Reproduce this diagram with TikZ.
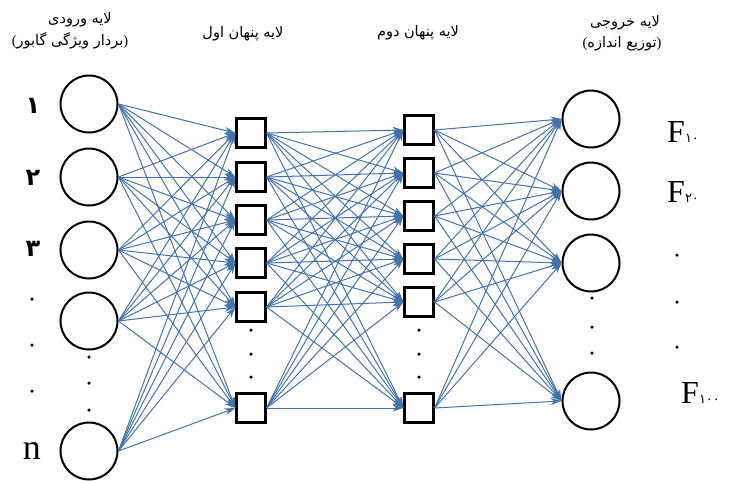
\documentclass[tikz,border=0pt]{standalone}
\usepackage{fontspec}
\setmainfont{Liberation Serif}
\newfontfamily\arabicfont[Script=Arabic]{DejaVu Sans}
\TeXXeTstate=1
\usetikzlibrary{arrows.meta}
\definecolor{edgeblue}{RGB}{68,114,170}
\begin{document}
\begin{tikzpicture}[x=1pt,y=-1pt,
  incirc/.style={circle,draw=black,line width=2pt,minimum size=57pt,inner sep=0pt},
  sqbox/.style={rectangle,draw=black,line width=2.2pt,minimum size=29pt,inner sep=0pt},
  conn/.style={draw=edgeblue,line width=1pt,-{Stealth[length=11pt,width=7pt]}},
  dotn/.style={circle,fill=black,inner sep=0pt,minimum size=3.5pt},
  head/.style={font=\arabicfont\fontsize{14.5}{16}\selectfont,inner sep=0pt},
  fnum/.style={font=\fontsize{32}{32}\selectfont,inner sep=0pt,anchor=west},
  pdig/.style={font=\arabicfont\bfseries\fontsize{24}{24}\selectfont,inner sep=0pt}]
\useasboundingbox (0,0) rectangle (732,480);

% headers
\node[head] (h1a) at (80,20) {\beginR لایه ورودی\endR};
\node[head] (h1b) at (70,41) {{\rmfamily(}\beginR بردار ویژگی گابور\endR{\rmfamily)}};
\node[head] (h2) at (243,34) {\beginR لایه پنهان اول\endR};
\node[head] (h3) at (418,33) {\beginR لایه پنهان دوم\endR};
\node[head] (h4a) at (625,23) {\beginR لایه خروجی\endR};
\node[head] (h4b) at (622,44) {{\rmfamily(}\beginR توزیع اندازه\endR{\rmfamily)}};

% input layer
\node[incirc] (i1) at (89,104) {};
\node[incirc] (i2) at (89,177) {};
\node[incirc] (i3) at (89,250) {};
\node[incirc] (i4) at (89,321) {};
\node[incirc] (i5) at (89,451) {};
\node[dotn] (id1) at (89,357) {};
\node[dotn] (id2) at (89,383) {};
\node[dotn] (id3) at (89,410) {};

% input labels
\node[pdig] (l1) at (33,106) {۱};
\node[pdig] (l2) at (33,178) {۲};
\node[pdig] (l3) at (33,249) {۳};
\node[dotn] (ld1) at (32,299) {};
\node[dotn] (ld2) at (32,345) {};
\node[dotn] (ld3) at (32,391) {};
\node[font=\fontsize{36}{36}\selectfont,inner sep=0pt] (ln) at (32,451) {n};

% hidden layer 1
\node[sqbox] (a1) at (251,133) {};
\node[sqbox] (a2) at (251,177) {};
\node[sqbox] (a3) at (251,220) {};
\node[sqbox] (a4) at (251,263) {};
\node[sqbox] (a5) at (251,307) {};
\node[sqbox] (a6) at (251,408) {};
\node[dotn] (ad1) at (251,330) {};
\node[dotn] (ad2) at (251,354) {};
\node[dotn] (ad3) at (251,377) {};

% hidden layer 2
\node[sqbox] (b1) at (419,130) {};
\node[sqbox] (b2) at (419,173) {};
\node[sqbox] (b3) at (419,216) {};
\node[sqbox] (b4) at (419,259) {};
\node[sqbox] (b5) at (419,302) {};
\node[sqbox] (b6) at (419,408) {};
\node[dotn] (bd1) at (419,330) {};
\node[dotn] (bd2) at (419,354) {};
\node[dotn] (bd3) at (419,377) {};

% output layer
\node[incirc] (o1) at (591,119) {};
\node[incirc] (o2) at (591,191) {};
\node[incirc] (o3) at (591,263) {};
\node[incirc] (o4) at (591,401) {};
\node[dotn] (od1) at (592,298) {};
\node[dotn] (od2) at (592,327) {};
\node[dotn] (od3) at (592,353) {};

% output labels
\node[fnum] (f1) at (667,132) {F{\arabicfont\fontsize{13}{13}\selectfont ۱۰}};
\node[fnum] (f2) at (667,192) {F{\arabicfont\fontsize{13}{13}\selectfont ۲۰}};
\node[dotn] (fd1) at (677,255) {};
\node[dotn] (fd2) at (677,302) {};
\node[dotn] (fd3) at (677,347) {};
\node[fnum] (f3) at (681,393) {F{\arabicfont\fontsize{13}{13}\selectfont ۱۰۰}};

% connections
\foreach \i in {1,...,5}
  \foreach \j in {1,...,6}
    \draw[conn] (i\i.east) -- (a\j.west);
\foreach \i in {1,...,6}
  \foreach \j in {1,...,6}
    \draw[conn] (a\i.east) -- (b\j.west);
\foreach \i in {1,...,6}
  \foreach \j in {1,...,4}
    \draw[conn] (b\i.east) -- (o\j.west);
\end{tikzpicture}
\end{document}
